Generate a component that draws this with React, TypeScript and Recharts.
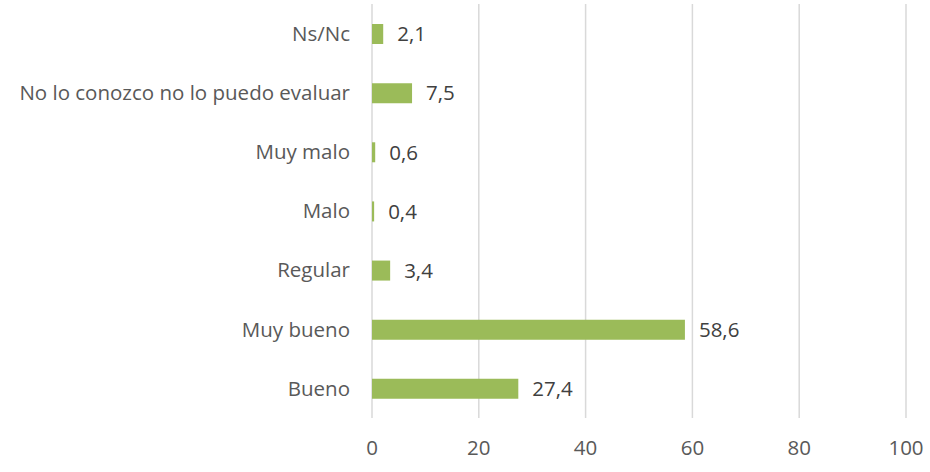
import React from 'react';
import { BarChart, Bar, XAxis, YAxis, CartesianGrid, LabelList } from 'recharts';

const categories = [
  'Ns/Nc',
  'No lo conozco no lo puedo evaluar',
  'Muy malo',
  'Malo',
  'Regular',
  'Muy bueno',
  'Bueno',
];
const values = [2.1, 7.5, 0.6, 0.4, 3.4, 58.6, 27.4];
const xTicks = [0, 20, 40, 60, 80, 100];

const data = categories.map((name, i) => ({ name, value: values[i] }));

const FONT = 'Open Sans, sans-serif';

const fmt = (v: any) => String(v).replace('.', ',');

export default function App() {
  return (
    <div style={{ position: 'absolute', left: 0, top: 0 }}>
      <BarChart
        width={930}
        height={472}
        data={data}
        layout="vertical"
        margin={{ top: 4, right: 24, bottom: 0, left: 0 }}
      >
        <CartesianGrid horizontal={false} stroke="#D9D9D9" strokeWidth={1.5} />
        <XAxis
          type="number"
          domain={[0, 100]}
          ticks={xTicks}
          axisLine={false}
          tickLine={false}
          tickSize={0}
          tickMargin={22}
          height={54}
          tick={{ fill: '#595959', fontSize: 20.5, fontFamily: FONT }}
        />
        <YAxis
          type="category"
          dataKey="name"
          width={372}
          axisLine={false}
          tickLine={false}
          tickSize={0}
          tickMargin={22}
          tick={{ fill: '#595959', fontSize: 20.5, fontFamily: FONT }}
        />
        <Bar dataKey="value" fill="#9BBB59" barSize={20} isAnimationActive={false}>
          <LabelList
            dataKey="value"
            position="right"
            offset={14}
            formatter={fmt}
            style={{ fill: '#404040', fontSize: 20.5, fontFamily: FONT }}
          />
        </Bar>
      </BarChart>
    </div>
  );
}
